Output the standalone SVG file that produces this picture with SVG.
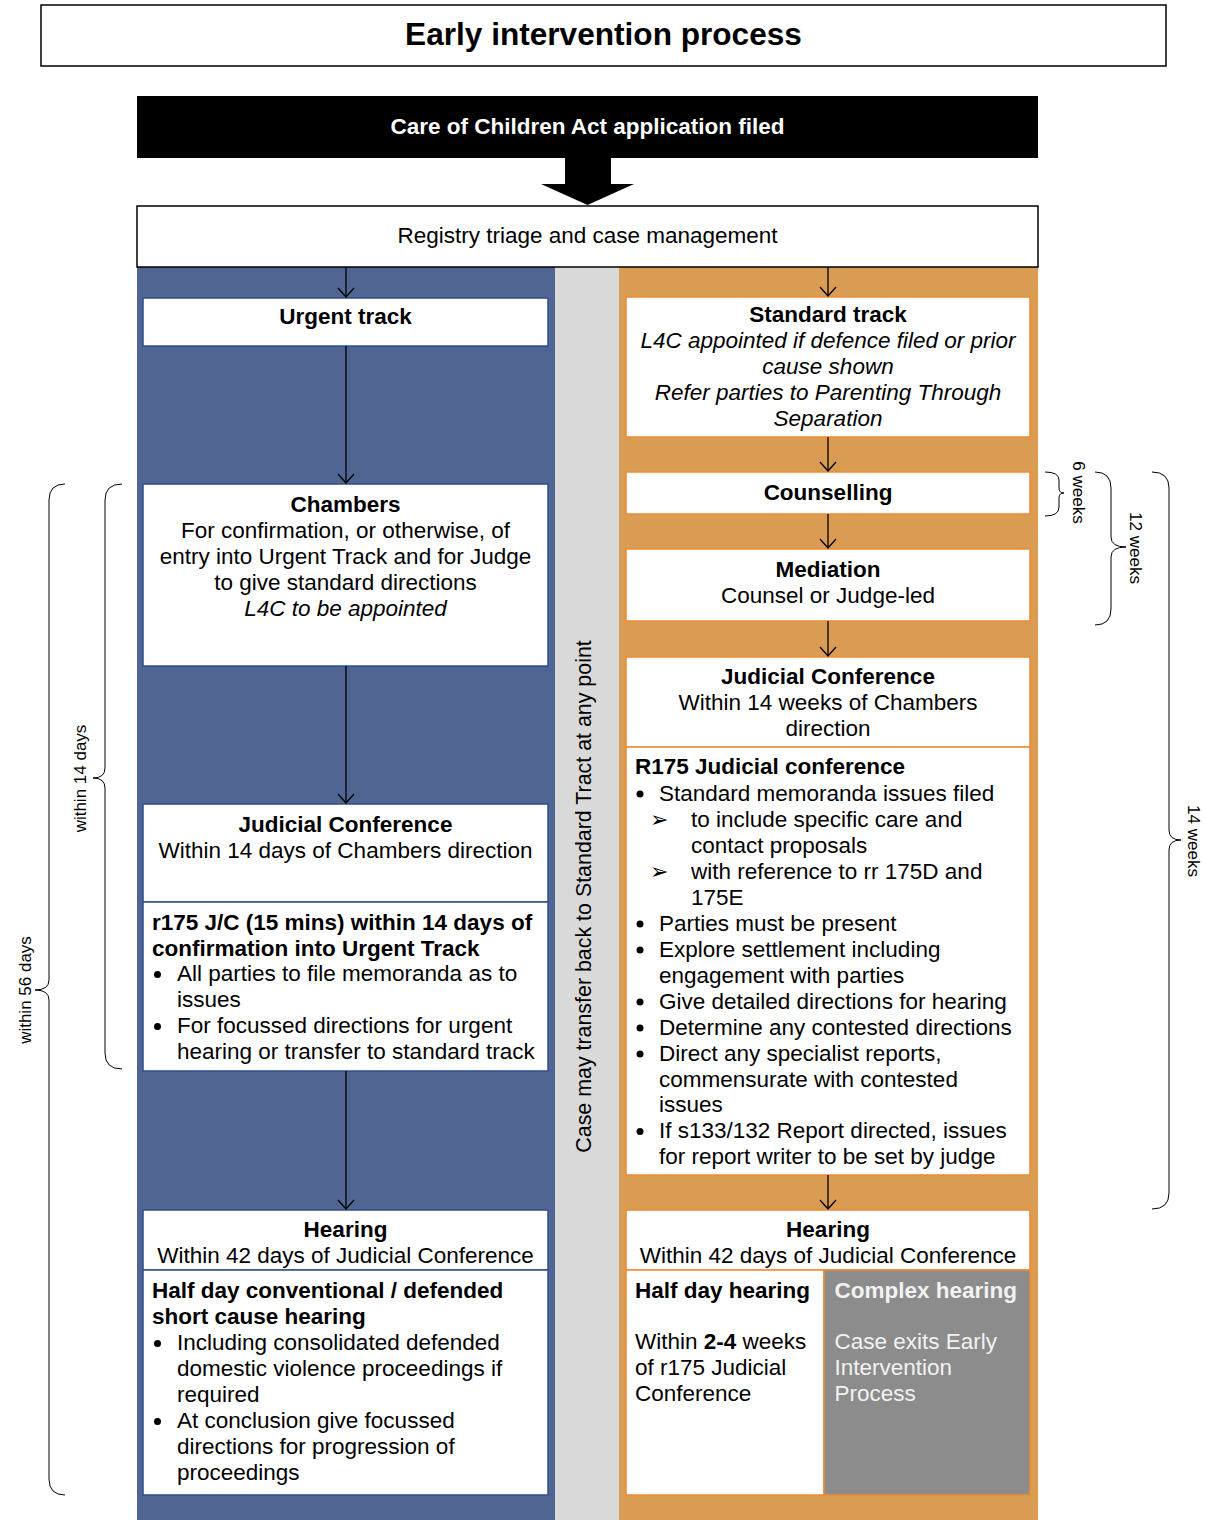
<svg xmlns="http://www.w3.org/2000/svg" width="1205" height="1520" viewBox="0 0 1205 1520">
<defs>
<style>
.t{font-family:"Liberation Sans",Arial,sans-serif;font-size:22.5px;fill:#000}
.b{font-weight:bold}
.i{font-style:italic}
.c{text-anchor:middle}
.dot{fill:#000}
.lbl{font-family:"Liberation Sans",Arial,sans-serif;font-size:17px;fill:#000;text-anchor:middle}
.bb{fill:#fff;stroke:#2F4E8C;stroke-width:1.5}
.ob{fill:#fff;stroke:#EE8A35;stroke-width:1.5}
.conn{stroke:#000;stroke-width:1.3;fill:none;marker-end:url(#ah)}
.brace{stroke:#000;stroke-width:1;fill:none}
.arr{font-family:"DejaVu Sans",sans-serif;font-size:22px;fill:#000}
</style>
<marker id="ah" markerUnits="userSpaceOnUse" viewBox="-12 -10 14 20" markerWidth="14" markerHeight="20" refX="0" refY="0" orient="auto">
<path d="M-9,-8 L0,0 L-9,8" fill="none" stroke="#000" stroke-width="1.3"/>
</marker>
</defs>
<rect width="1205" height="1520" fill="#fff"/>

<!-- column backgrounds -->
<rect x="137" y="267" width="418" height="1253" fill="#516592"/>
<rect x="555" y="267" width="64" height="1253" fill="#D9D9D9"/>
<rect x="619" y="267" width="419" height="1253" fill="#DA9B53"/>

<g id="title">
<rect x="41" y="5" width="1125" height="61" fill="#fff" stroke="#000" stroke-width="1.5"/>
<text class="t b c" x="603.5" y="45" style="font-size:31.6px">Early intervention process</text>
</g>

<g id="application">
<rect x="137" y="96" width="901" height="62" fill="#000"/>
<text class="t b c" x="587.5" y="134" style="fill:#fff">Care of Children Act application filed</text>
</g>

<g id="registry">
<rect x="137" y="206" width="901" height="61" fill="#fff" stroke="#000" stroke-width="1.5"/>
<text class="t c" x="587.5" y="243">Registry triage and case management</text>
</g>

<g id="transfer-note">
<text class="t c" transform="translate(591,896.5) rotate(-90)" style="font-size:21.4px">Case may transfer back to Standard Tract at any point</text>
</g>

<!-- Urgent track column -->
<g id="urgent-track">
<rect class="bb" x="143" y="298" width="405" height="48"/>
<text class="t b c" x="345.5" y="324">Urgent track</text>
</g>

<g id="chambers">
<rect class="bb" x="143" y="484" width="405" height="182"/>
<text class="t b c" x="345.5" y="511.5">Chambers</text>
<text class="t c" x="345.5" y="537.5">For confirmation, or otherwise, of</text>
<text class="t c" x="345.5" y="563.5">entry into Urgent Track and for Judge</text>
<text class="t c" x="345.5" y="589.5">to give standard directions</text>
<text class="t i c" x="345.5" y="615.5">L4C to be appointed</text>
</g>

<g id="urgent-judicial-conference">
<rect class="bb" x="143" y="804" width="405" height="98"/>
<text class="t b c" x="345.5" y="831.5">Judicial Conference</text>
<text class="t c" x="345.5" y="857.5">Within 14 days of Chambers direction</text>
<rect class="bb" x="143" y="902" width="405" height="169"/>
<text class="t b" x="152" y="929.5">r175 J/C (15 mins) within 14 days of</text>
<text class="t b" x="152" y="955.5">confirmation into Urgent Track</text>
<circle class="dot" cx="157.5" cy="974.5" r="3.5"/>
<text class="t" x="177" y="981">All parties to file memoranda as to</text>
<text class="t" x="177" y="1007">issues</text>
<circle class="dot" cx="157.5" cy="1026.5" r="3.5"/>
<text class="t" x="177" y="1033">For focussed directions for urgent</text>
<text class="t" x="177" y="1059">hearing or transfer to standard track</text>
</g>

<g id="urgent-hearing">
<rect class="bb" x="143" y="1210" width="405" height="60"/>
<text class="t b c" x="345.5" y="1237">Hearing</text>
<text class="t c" x="345.5" y="1262.5">Within 42 days of Judicial Conference</text>
<rect class="bb" x="143" y="1270" width="405" height="225"/>
<text class="t b" x="152" y="1298">Half day conventional / defended</text>
<text class="t b" x="152" y="1324">short cause hearing</text>
<circle class="dot" cx="157.5" cy="1343.5" r="3.5"/>
<text class="t" x="177" y="1350">Including consolidated defended</text>
<text class="t" x="177" y="1376">domestic violence proceedings if</text>
<text class="t" x="177" y="1402">required</text>
<circle class="dot" cx="157.5" cy="1421.5" r="3.5"/>
<text class="t" x="177" y="1428">At conclusion give focussed</text>
<text class="t" x="177" y="1454">directions for progression of</text>
<text class="t" x="177" y="1480">proceedings</text>
</g>

<!-- Standard track column -->
<g id="standard-track">
<rect class="ob" x="626" y="297" width="404" height="140"/>
<text class="t b c" x="828" y="322">Standard track</text>
<text class="t i c" x="828" y="348">L4C appointed if defence filed or prior</text>
<text class="t i c" x="828" y="374">cause shown</text>
<text class="t i c" x="828" y="400">Refer parties to Parenting Through</text>
<text class="t i c" x="828" y="425.5">Separation</text>
</g>

<g id="counselling">
<rect class="ob" x="626" y="472" width="404" height="42"/>
<text class="t b c" x="828" y="500">Counselling</text>
</g>

<g id="mediation">
<rect class="ob" x="626" y="549" width="404" height="72"/>
<text class="t b c" x="828" y="577">Mediation</text>
<text class="t c" x="828" y="602.5">Counsel or Judge-led</text>
</g>

<g id="standard-judicial-conference">
<rect class="ob" x="626" y="657" width="404" height="90"/>
<text class="t b c" x="828" y="683.5">Judicial Conference</text>
<text class="t c" x="828" y="709.5">Within 14 weeks of Chambers</text>
<text class="t c" x="828" y="735.5">direction</text>
<rect class="ob" x="626" y="747" width="404" height="428"/>
<text class="t b" x="635" y="774">R175 Judicial conference</text>
<circle class="dot" cx="640" cy="794" r="3.5"/>
<text class="t" x="659" y="800.5">Standard memoranda issues filed</text>
<text class="arr" x="650" y="827">➢</text>
<text class="t" x="691" y="826.5">to include specific care and</text>
<text class="t" x="691" y="852.5">contact proposals</text>
<text class="arr" x="650" y="879">➢</text>
<text class="t" x="691" y="878.5">with reference to rr 175D and</text>
<text class="t" x="691" y="904.5">175E</text>
<circle class="dot" cx="640" cy="924" r="3.5"/>
<text class="t" x="659" y="930.5">Parties must be present</text>
<circle class="dot" cx="640" cy="950" r="3.5"/>
<text class="t" x="659" y="956.5">Explore settlement including</text>
<text class="t" x="659" y="982.5">engagement with parties</text>
<circle class="dot" cx="640" cy="1002" r="3.5"/>
<text class="t" x="659" y="1008.5">Give detailed directions for hearing</text>
<circle class="dot" cx="640" cy="1028" r="3.5"/>
<text class="t" x="659" y="1034.5">Determine any contested directions</text>
<circle class="dot" cx="640" cy="1054" r="3.5"/>
<text class="t" x="659" y="1060.5">Direct any specialist reports,</text>
<text class="t" x="659" y="1086.5">commensurate with contested</text>
<text class="t" x="659" y="1112">issues</text>
<circle class="dot" cx="640" cy="1131.5" r="3.5"/>
<text class="t" x="659" y="1138">If s133/132 Report directed, issues</text>
<text class="t" x="659" y="1164">for report writer to be set by judge</text>
</g>

<g id="standard-hearing">
<rect class="ob" x="626" y="1210" width="404" height="60"/>
<text class="t b c" x="828" y="1237">Hearing</text>
<text class="t c" x="828" y="1262.5">Within 42 days of Judicial Conference</text>
</g>

<g id="half-day-hearing">
<rect class="ob" x="626" y="1270" width="198" height="225"/>
<text class="t b" x="635" y="1297.5">Half day hearing</text>
<text class="t" x="635" y="1349">Within <tspan class="b">2-4</tspan> weeks</text>
<text class="t" x="635" y="1375">of r175 Judicial</text>
<text class="t" x="635" y="1400.5">Conference</text>
</g>

<g id="complex-hearing">
<rect x="824" y="1270" width="206" height="225" fill="#8C8C8C" stroke="#EE8A35" stroke-width="1.5"/>
<text class="t b" x="834.5" y="1297.5" style="fill:#F2F2F2">Complex hearing</text>
<text class="t" x="834.5" y="1349" style="fill:#F2F2F2">Case exits Early</text>
<text class="t" x="834.5" y="1375" style="fill:#F2F2F2">Intervention</text>
<text class="t" x="834.5" y="1400.5" style="fill:#F2F2F2">Process</text>
</g>

<g id="connectors">
<polygon points="565,158 611,158 611,184 634,184 587.5,205 541,184 565,184" fill="#000"/>
<line class="conn" x1="346" y1="267" x2="346" y2="297"/>
<line class="conn" x1="346" y1="346" x2="346" y2="483"/>
<line class="conn" x1="346" y1="666" x2="346" y2="803"/>
<line class="conn" x1="346" y1="1071" x2="346" y2="1209"/>
<line class="conn" x1="828" y1="267" x2="828" y2="296"/>
<line class="conn" x1="828" y1="437" x2="828" y2="471"/>
<line class="conn" x1="828" y1="514" x2="828" y2="548"/>
<line class="conn" x1="828" y1="621" x2="828" y2="656"/>
<line class="conn" x1="828" y1="1175" x2="828" y2="1209"/>
</g>

<g id="brace-56-days">
<path class="brace" d="M65,484 Q49,484 49,500 L49,980 Q49,990 35,990 Q49,990 49,1000 L49,1479 Q49,1495 65,1495"/>
<text class="lbl" transform="translate(31,990) rotate(-90)">within 56 days</text>
</g>
<g id="brace-14-days">
<path class="brace" d="M122,484 Q105,484 105,500 L105,768 Q105,778 93,778 Q105,778 105,788 L105,1053 Q105,1069 122,1069"/>
<text class="lbl" transform="translate(86,778.5) rotate(-90)">within 14 days</text>
</g>
<g id="brace-6-weeks">
<path class="brace" d="M1045,472 Q1059,472 1059,480 L1059,488 Q1059,493 1064,493 Q1059,493 1059,498 L1059,507 Q1059,516 1045,516"/>
<text class="lbl" transform="translate(1073,492.5) rotate(90)">6 weeks</text>
</g>
<g id="brace-12-weeks">
<path class="brace" d="M1095,472 Q1111,472 1111,488 L1111,537 Q1111,547 1126,547 Q1111,547 1111,557 L1111,609 Q1111,625 1095,625"/>
<text class="lbl" transform="translate(1130,548) rotate(90)">12 weeks</text>
</g>
<g id="brace-14-weeks">
<path class="brace" d="M1152,472 Q1169,472 1169,488 L1169,830 Q1169,840 1181,840 Q1169,840 1169,850 L1169,1193 Q1169,1209 1152,1209"/>
<text class="lbl" transform="translate(1188,841) rotate(90)">14 weeks</text>
</g>
</svg>
